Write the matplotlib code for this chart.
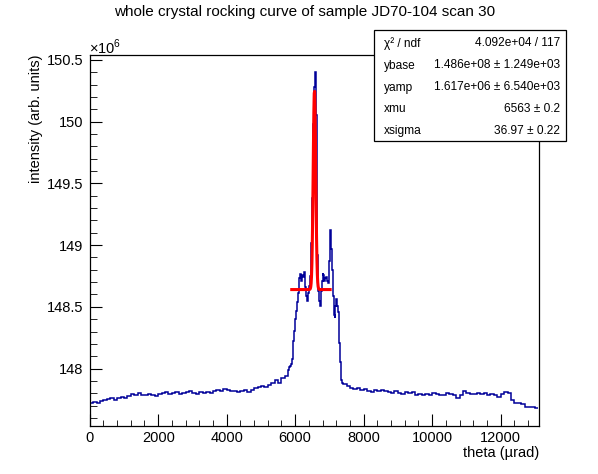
import numpy as np
import matplotlib
matplotlib.use("Agg")
import matplotlib.pyplot as plt
from matplotlib.patches import Rectangle

plt.rcParams['font.family'] = ['Liberation Sans', 'DejaVu Sans']
plt.rcParams['mathtext.fontset'] = 'custom'
plt.rcParams['mathtext.rm'] = 'Liberation Sans'

# histogram bin edges (theta, urad): coarse baseline, finer around the peak
edges = np.concatenate([np.arange(0, 5800, 100),
                        np.arange(5800, 7400, 25),
                        np.arange(7400, 13101, 100)])

# intensity per bin, in units of 1e6
counts_low = [147.725, 147.73, 147.718, 147.735, 147.745, 147.752, 147.758, 147.748, 147.765, 147.77,
              147.762, 147.778, 147.795, 147.785, 147.8, 147.79, 147.782, 147.795, 147.788, 147.78,
              147.792, 147.805, 147.81, 147.798, 147.802, 147.812, 147.795, 147.805, 147.81, 147.815,
              147.805, 147.798, 147.81, 147.802, 147.808, 147.8, 147.815, 147.825, 147.818, 147.838,
              147.83, 147.82, 147.822, 147.812, 147.818, 147.825, 147.81, 147.828, 147.84, 147.848,
              147.858, 147.852, 147.87, 147.882, 147.905, 147.88, 147.92, 147.94]
counts_peak = [147.99, 148.01, 148.02, 148.04, 148.08, 148.12, 148.225, 148.305, 148.40, 148.47,
               148.54, 148.61, 148.69, 148.73, 148.77, 148.71, 148.76, 148.74, 148.78, 148.75,
               148.66, 148.59, 148.55, 148.61, 148.67, 148.75, 148.855,
               149.02, 149.38, 149.98, 150.28, 150.40, 150.055, 149.60, 148.92, 148.63, 148.55,
               148.51, 148.63, 148.71, 148.775, 148.755, 148.71, 148.735, 148.745, 148.71, 148.69,
               148.795, 148.875, 149.12, 148.965, 148.795, 148.59, 148.43, 148.41, 148.51, 148.56,
               148.51, 148.46, 148.21, 148.055, 147.965, 147.905, 147.885]
counts_high = [147.875, 147.86, 147.845, 147.835, 147.842, 147.83, 147.838, 147.82, 147.81, 147.825,
               147.815, 147.83, 147.818, 147.81, 147.805, 147.82, 147.8, 147.795, 147.81, 147.8,
               147.808, 147.79, 147.798, 147.785, 147.795, 147.79, 147.8, 147.792, 147.788,
               147.785, 147.80, 147.795, 147.785, 147.765, 147.79, 147.818, 147.805, 147.798, 147.792,
               147.80, 147.795, 147.8, 147.79, 147.792, 147.785, 147.77, 147.795, 147.812, 147.8,
               147.745, 147.72, 147.722, 147.71, 147.688, 147.692, 147.685, 147.68]
counts = np.array(counts_low + counts_peak + counts_high)

# gaussian fit results (from the stats box)
ybase = 148.64
yamp = 1.617
xmu = 6563
xsigma = 36.97
fit_lo, fit_hi = 5900, 7020

stat_names = ["χ² / ndf", "ybase", "yamp", "xmu", "xsigma"]
stat_vals = ["4.092e+04 / 117", "1.486e+08 ± 1.249e+03", "1.617e+06 ± 6.540e+03",
             "6563 ± 0.2", "36.97 ± 0.22"]

fig = plt.figure(figsize=(5.98, 4.74), dpi=100)
ax = fig.add_axes([0.150, 0.1013, 0.7508, 0.7827])

ax.stairs(counts, edges, baseline=None, color='#000099', lw=1.1)

xf = np.linspace(fit_lo, fit_hi, 100)
ax.plot(xf, ybase + yamp*np.exp(-0.5*((xf - xmu)/xsigma)**2), color='red', lw=2.2)

ax.set_xlim(0, 13110)
ax.set_ylim(147.535, 150.54)
ax.set_xticks(np.arange(0, 13001, 2000))
ax.set_xticks(np.arange(0, 13110, 400), minor=True)
ax.set_yticks([148, 148.5, 149, 149.5, 150, 150.5])
ax.set_yticklabels(["148", "148.5", "149", "149.5", "150", "150.5"])
ax.set_yticks(np.arange(147.6, 150.55, 0.1), minor=True)
ax.tick_params(axis='both', which='both', direction='in', top=False, right=False, labelsize=10.5)
ax.tick_params(axis='x', which='major', length=8.4, pad=3.5)
ax.tick_params(axis='x', which='minor', length=4)
ax.tick_params(axis='y', which='major', length=8.6, pad=4.5)
ax.tick_params(axis='y', which='minor', length=5)
for s in ax.spines.values():
    s.set_linewidth(0.9)

fig.text(0.51, 0.974, "whole crystal rocking curve of sample JD70-104 scan 30",
         ha='center', va='center', fontsize=11)
fig.text(89/598, 1 - 47/474, "×10$^{6}$", ha='left', va='center', fontsize=10.5)
fig.text(36/598, 0.884, "intensity (arb. units)", rotation=90, ha='center', va='top', fontsize=10.5)
fig.text(539/598, 1 - 453/474, "theta (µrad)", ha='right', va='center', fontsize=10.5)

# stats box
bx0, by0, bx1, by1 = 374/598, 1 - 141/474, 566/598, 1 - 30/474
fig.patches.append(Rectangle((bx0, by0), bx1 - bx0, by1 - by0, transform=fig.transFigure,
                             facecolor='white', edgecolor='black', lw=0.9, zorder=5))
row_y = [43.5, 65.5, 87.5, 109.5, 131]
for name, val, ry in zip(stat_names, stat_vals, row_y):
    fig.text(384/598, 1 - ry/474, name, ha='left', va='center', fontsize=8.6, zorder=6)
    fig.text(560/598, 1 - ry/474, val, ha='right', va='center', fontsize=8.6, zorder=6)

fig.savefig("out.png", dpi=100)
